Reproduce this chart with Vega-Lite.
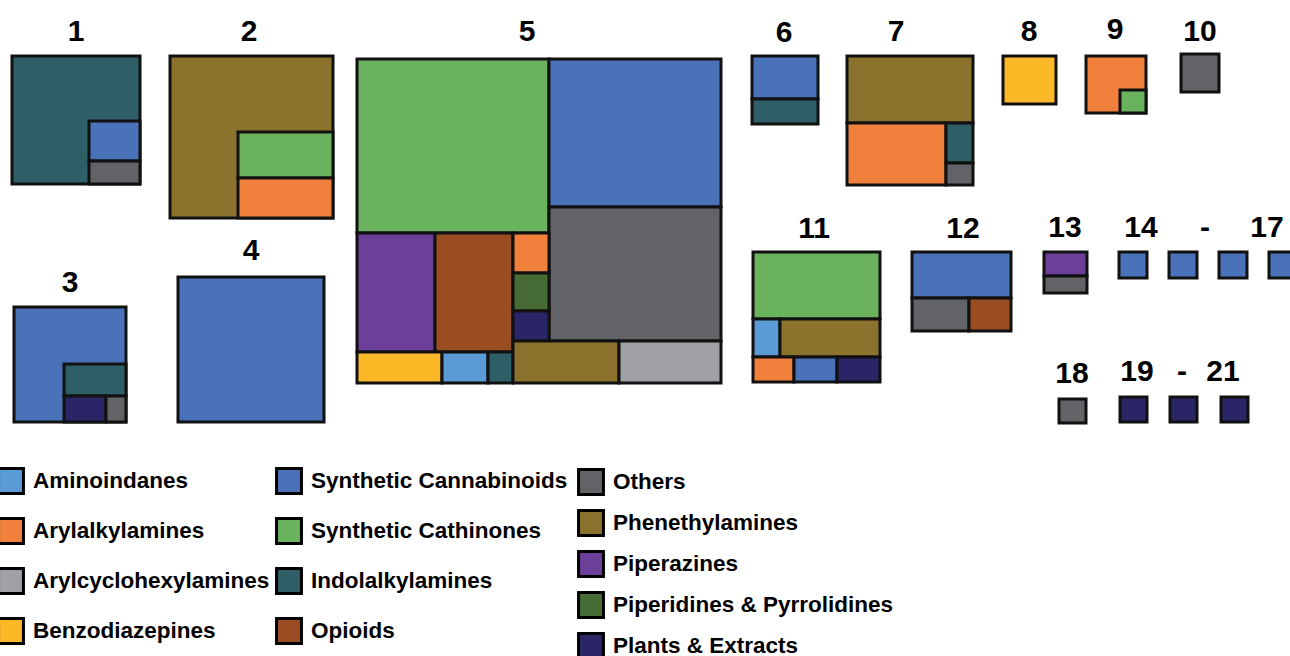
{
  "$schema": "https://vega.github.io/schema/vega-lite/v6.json",
  "width": 1290,
  "height": 656,
  "autosize": {"type": "none"},
  "padding": 0,
  "background": "white",
  "config": {
    "view": {"stroke": null},
    "legend": {
      "orient": "none",
      "title": null,
      "symbolType": "square",
      "symbolSize": 620,
      "symbolStrokeColor": "black",
      "symbolStrokeWidth": 3,
      "symbolOpacity": 1,
      "labelFont": "Liberation Sans",
      "labelFontWeight": "bold",
      "labelFontSize": 22.5,
      "labelColor": "black",
      "labelOffset": 8,
      "labelLimit": 400
    }
  },
  "datasets": {
    "tiles": [
      {"panel": "1", "cat": "Indolalkylamines", "x0": 12, "x1": 140, "y0": 56, "y1": 184},
      {"panel": "1", "cat": "Synthetic Cannabinoids", "x0": 89, "x1": 140, "y0": 121, "y1": 161},
      {"panel": "1", "cat": "Others", "x0": 89, "x1": 140, "y0": 161, "y1": 184},
      {"panel": "2", "cat": "Phenethylamines", "x0": 170, "x1": 333, "y0": 56, "y1": 218},
      {"panel": "2", "cat": "Synthetic Cathinones", "x0": 238, "x1": 333, "y0": 132, "y1": 178},
      {"panel": "2", "cat": "Arylalkylamines", "x0": 238, "x1": 333, "y0": 178, "y1": 218},
      {"panel": "3", "cat": "Synthetic Cannabinoids", "x0": 14, "x1": 126, "y0": 307, "y1": 422},
      {"panel": "3", "cat": "Indolalkylamines", "x0": 64, "x1": 126, "y0": 364, "y1": 396},
      {"panel": "3", "cat": "Plants & Extracts", "x0": 64, "x1": 106, "y0": 396, "y1": 422},
      {"panel": "3", "cat": "Others", "x0": 106, "x1": 126, "y0": 396, "y1": 422},
      {"panel": "4", "cat": "Synthetic Cannabinoids", "x0": 178, "x1": 324, "y0": 277, "y1": 422},
      {"panel": "5", "cat": "Synthetic Cathinones", "x0": 357, "x1": 549, "y0": 59, "y1": 233},
      {"panel": "5", "cat": "Synthetic Cannabinoids", "x0": 549, "x1": 721, "y0": 59, "y1": 207},
      {"panel": "5", "cat": "Others", "x0": 549, "x1": 721, "y0": 207, "y1": 341},
      {"panel": "5", "cat": "Piperazines", "x0": 357, "x1": 435, "y0": 233, "y1": 352},
      {"panel": "5", "cat": "Opioids", "x0": 435, "x1": 513, "y0": 233, "y1": 352},
      {"panel": "5", "cat": "Arylalkylamines", "x0": 513, "x1": 549, "y0": 233, "y1": 273},
      {"panel": "5", "cat": "Piperidines & Pyrrolidines", "x0": 513, "x1": 549, "y0": 273, "y1": 311},
      {"panel": "5", "cat": "Plants & Extracts", "x0": 513, "x1": 549, "y0": 311, "y1": 341},
      {"panel": "5", "cat": "Benzodiazepines", "x0": 357, "x1": 442, "y0": 352, "y1": 383},
      {"panel": "5", "cat": "Aminoindanes", "x0": 442, "x1": 488, "y0": 352, "y1": 383},
      {"panel": "5", "cat": "Indolalkylamines", "x0": 488, "x1": 513, "y0": 352, "y1": 383},
      {"panel": "5", "cat": "Phenethylamines", "x0": 513, "x1": 619, "y0": 341, "y1": 383},
      {"panel": "5", "cat": "Arylcyclohexylamines", "x0": 619, "x1": 721, "y0": 341, "y1": 383},
      {"panel": "6", "cat": "Synthetic Cannabinoids", "x0": 752, "x1": 818, "y0": 56, "y1": 99},
      {"panel": "6", "cat": "Indolalkylamines", "x0": 752, "x1": 818, "y0": 99, "y1": 124},
      {"panel": "7", "cat": "Phenethylamines", "x0": 847, "x1": 973, "y0": 56, "y1": 123},
      {"panel": "7", "cat": "Arylalkylamines", "x0": 847, "x1": 946, "y0": 123, "y1": 185},
      {"panel": "7", "cat": "Indolalkylamines", "x0": 946, "x1": 973, "y0": 123, "y1": 163},
      {"panel": "7", "cat": "Others", "x0": 946, "x1": 973, "y0": 163, "y1": 185},
      {"panel": "8", "cat": "Benzodiazepines", "x0": 1003, "x1": 1056, "y0": 56, "y1": 104},
      {"panel": "9", "cat": "Arylalkylamines", "x0": 1086, "x1": 1146, "y0": 56, "y1": 113},
      {"panel": "9", "cat": "Synthetic Cathinones", "x0": 1120, "x1": 1146, "y0": 90, "y1": 113},
      {"panel": "10", "cat": "Others", "x0": 1181, "x1": 1219, "y0": 54, "y1": 92},
      {"panel": "11", "cat": "Synthetic Cathinones", "x0": 753, "x1": 880, "y0": 252, "y1": 319},
      {"panel": "11", "cat": "Aminoindanes", "x0": 753, "x1": 780, "y0": 319, "y1": 357},
      {"panel": "11", "cat": "Phenethylamines", "x0": 780, "x1": 880, "y0": 319, "y1": 357},
      {"panel": "11", "cat": "Arylalkylamines", "x0": 753, "x1": 794, "y0": 357, "y1": 382},
      {"panel": "11", "cat": "Synthetic Cannabinoids", "x0": 794, "x1": 837, "y0": 357, "y1": 382},
      {"panel": "11", "cat": "Plants & Extracts", "x0": 837, "x1": 880, "y0": 357, "y1": 382},
      {"panel": "12", "cat": "Synthetic Cannabinoids", "x0": 912, "x1": 1011, "y0": 252, "y1": 298},
      {"panel": "12", "cat": "Others", "x0": 912, "x1": 969, "y0": 298, "y1": 331},
      {"panel": "12", "cat": "Opioids", "x0": 969, "x1": 1011, "y0": 298, "y1": 331},
      {"panel": "13", "cat": "Piperazines", "x0": 1044, "x1": 1087, "y0": 252, "y1": 276},
      {"panel": "13", "cat": "Others", "x0": 1044, "x1": 1087, "y0": 276, "y1": 293},
      {"panel": "14", "cat": "Synthetic Cannabinoids", "x0": 1119, "x1": 1147, "y0": 252, "y1": 278},
      {"panel": "15", "cat": "Synthetic Cannabinoids", "x0": 1169, "x1": 1197, "y0": 252, "y1": 278},
      {"panel": "16", "cat": "Synthetic Cannabinoids", "x0": 1219, "x1": 1247, "y0": 252, "y1": 278},
      {"panel": "17", "cat": "Synthetic Cannabinoids", "x0": 1269, "x1": 1297, "y0": 252, "y1": 278},
      {"panel": "18", "cat": "Others", "x0": 1059, "x1": 1086, "y0": 399, "y1": 423},
      {"panel": "19", "cat": "Plants & Extracts", "x0": 1120, "x1": 1147, "y0": 397, "y1": 422},
      {"panel": "20", "cat": "Plants & Extracts", "x0": 1170, "x1": 1197, "y0": 397, "y1": 422},
      {"panel": "21", "cat": "Plants & Extracts", "x0": 1221, "x1": 1248, "y0": 397, "y1": 422}
    ],
    "labels": [
      {"label": "1", "x": 76, "y": 32},
      {"label": "2", "x": 249, "y": 32},
      {"label": "5", "x": 527, "y": 32},
      {"label": "6", "x": 784, "y": 33},
      {"label": "7", "x": 896, "y": 32},
      {"label": "8", "x": 1029, "y": 32},
      {"label": "9", "x": 1115, "y": 30},
      {"label": "10", "x": 1200, "y": 32},
      {"label": "3", "x": 70, "y": 283},
      {"label": "4", "x": 251, "y": 251},
      {"label": "11", "x": 814, "y": 229},
      {"label": "12", "x": 963, "y": 229},
      {"label": "13", "x": 1065, "y": 228},
      {"label": "14", "x": 1141, "y": 228},
      {"label": "-", "x": 1205, "y": 228},
      {"label": "17", "x": 1267, "y": 228},
      {"label": "18", "x": 1072, "y": 374},
      {"label": "19", "x": 1137, "y": 372},
      {"label": "-", "x": 1182, "y": 372},
      {"label": "21", "x": 1223, "y": 372}
    ]
  },
  "layer": [
    {
      "data": {"name": "tiles"},
      "mark": {"type": "rect", "stroke": "#111111", "strokeWidth": 3},
      "encoding": {
        "x": {"field": "x0", "type": "quantitative", "scale": {"domain": [0, 1290], "nice": false, "zero": false}, "axis": null},
        "x2": {"field": "x1"},
        "y": {"field": "y0", "type": "quantitative", "scale": {"domain": [0, 656], "nice": false, "zero": false, "reverse": true}, "axis": null},
        "y2": {"field": "y1"},
        "fill": {
          "field": "cat", "type": "nominal", "legend": null,
          "scale": {
            "domain": ["Aminoindanes", "Arylalkylamines", "Arylcyclohexylamines", "Benzodiazepines", "Synthetic Cannabinoids", "Synthetic Cathinones", "Indolalkylamines", "Opioids", "Others", "Phenethylamines", "Piperazines", "Piperidines & Pyrrolidines", "Plants & Extracts"],
            "range": ["#5B9BD5", "#F0803C", "#9FA1A4", "#FDB827", "#4A72B8", "#6BB25E", "#2E5F66", "#9B4D22", "#616366", "#8B722D", "#6C3F98", "#466B34", "#2A2566"]
          }
        }
      }
    },
    {
      "data": {"name": "tiles"},
      "transform": [{"filter": {"field": "cat", "oneOf": ["Aminoindanes", "Arylalkylamines", "Arylcyclohexylamines", "Benzodiazepines"]}}],
      "mark": {"type": "rect", "stroke": "black", "strokeWidth": 3},
      "encoding": {
        "x": {"field": "x0", "type": "quantitative", "axis": null},
        "x2": {"field": "x0"},
        "y": {"field": "y0", "type": "quantitative", "axis": null},
        "y2": {"field": "y0"},
        "fill": {
          "field": "cat", "type": "nominal",
          "scale": {"domain": ["Aminoindanes", "Arylalkylamines", "Arylcyclohexylamines", "Benzodiazepines"], "range": ["#5B9BD5", "#F0803C", "#9FA1A4", "#FDB827"]},
          "legend": {"legendX": -3, "legendY": 467, "rowPadding": 12}
        }
      }
    },
    {
      "data": {"name": "tiles"},
      "transform": [{"filter": {"field": "cat", "oneOf": ["Synthetic Cannabinoids", "Synthetic Cathinones", "Indolalkylamines", "Opioids"]}}],
      "mark": {"type": "rect", "stroke": "black", "strokeWidth": 3},
      "encoding": {
        "x": {"field": "x0", "type": "quantitative", "axis": null},
        "x2": {"field": "x0"},
        "y": {"field": "y0", "type": "quantitative", "axis": null},
        "y2": {"field": "y0"},
        "fill": {
          "field": "cat", "type": "nominal",
          "scale": {"domain": ["Synthetic Cannabinoids", "Synthetic Cathinones", "Indolalkylamines", "Opioids"], "range": ["#4A72B8", "#6BB25E", "#2E5F66", "#9B4D22"]},
          "legend": {"legendX": 275, "legendY": 467, "rowPadding": 12}
        }
      }
    },
    {
      "data": {"name": "tiles"},
      "transform": [{"filter": {"field": "cat", "oneOf": ["Others", "Phenethylamines", "Piperazines", "Piperidines & Pyrrolidines", "Plants & Extracts"]}}],
      "mark": {"type": "rect", "stroke": "black", "strokeWidth": 3},
      "encoding": {
        "x": {"field": "x0", "type": "quantitative", "axis": null},
        "x2": {"field": "x0"},
        "y": {"field": "y0", "type": "quantitative", "axis": null},
        "y2": {"field": "y0"},
        "fill": {
          "field": "cat", "type": "nominal",
          "scale": {"domain": ["Others", "Phenethylamines", "Piperazines", "Piperidines & Pyrrolidines", "Plants & Extracts"], "range": ["#616366", "#8B722D", "#6C3F98", "#466B34", "#2A2566"]},
          "legend": {"legendX": 577, "legendY": 468, "rowPadding": 3}
        }
      }
    },
    {
      "data": {"name": "labels"},
      "mark": {"type": "text", "font": "Liberation Sans", "fontWeight": "bold", "fontSize": 30, "align": "center", "baseline": "middle", "color": "black"},
      "encoding": {
        "x": {"field": "x", "type": "quantitative", "axis": null},
        "y": {"field": "y", "type": "quantitative", "axis": null},
        "text": {"field": "label"}
      }
    }
  ],
  "resolve": {"scale": {"fill": "independent"}, "legend": {"fill": "independent"}}
}
